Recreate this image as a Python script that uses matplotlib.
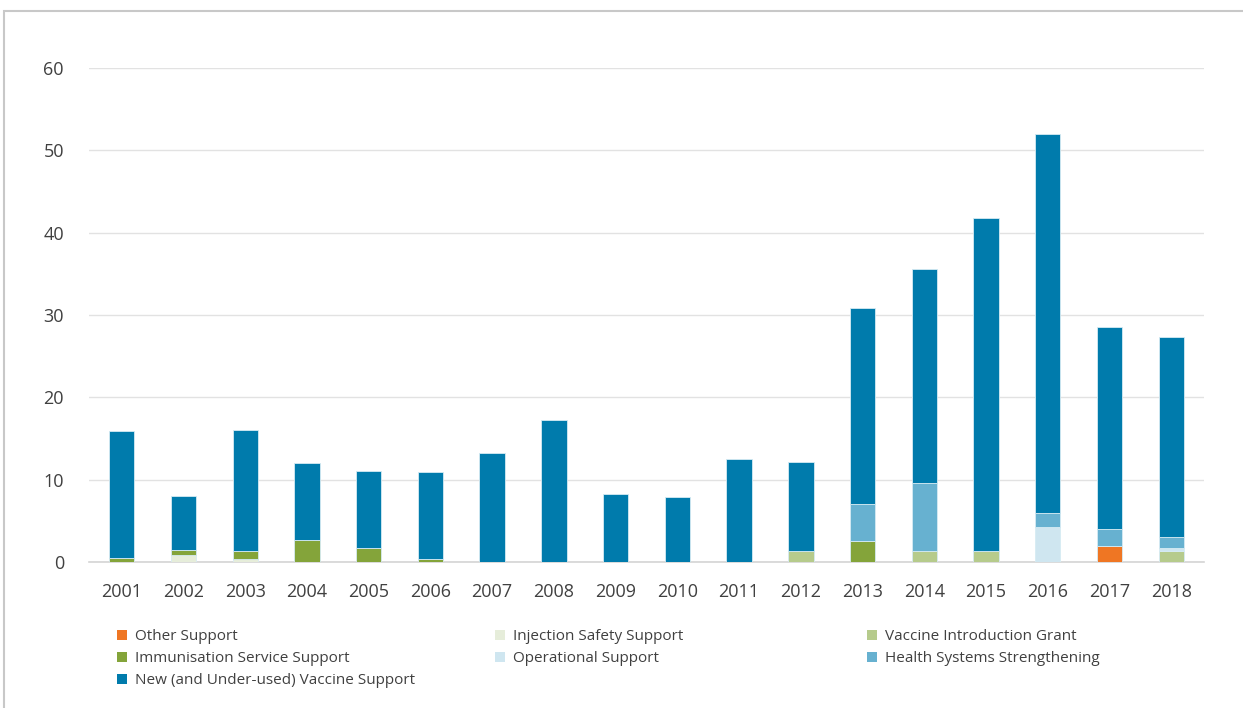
import matplotlib
matplotlib.use('Agg')
import matplotlib.pyplot as plt
from matplotlib.patches import Rectangle, Patch
import numpy as np

# values
years = [str(y) for y in range(2001, 2019)]
other_support = [0, 0, 0, 0, 0, 0, 0, 0, 0, 0, 0, 0, 0, 0, 0, 0, 1.95, 0]
injection_safety = [0, 0.9, 0.4, 0, 0, 0, 0, 0, 0, 0, 0, 0, 0, 0, 0, 0, 0, 0]
vaccine_intro = [0, 0, 0, 0, 0, 0, 0, 0, 0, 0, 0, 1.35, 0, 1.35, 1.35, 0, 0, 1.38]
immunisation_service = [0.5, 0.5, 0.9, 2.65, 1.65, 0.4, 0, 0, 0, 0, 0, 0, 2.6, 0, 0, 0, 0, 0]
operational = [0, 0, 0, 0, 0, 0, 0, 0, 0, 0, 0, 0, 0, 0, 0, 4.3, 0, 0.32]
health_systems = [0, 0, 0, 0, 0, 0, 0, 0, 0, 0, 0, 0, 4.4, 8.3, 0, 1.6, 2.0, 1.3]
new_vaccine = [15.45, 6.65, 14.75, 9.4, 9.4, 10.55, 13.25, 17.25, 8.25, 7.95,
               12.5, 10.85, 23.9, 25.9, 40.45, 46.1, 24.55, 24.3]

series = [
    ('Other Support', other_support, '#EF7623'),
    ('Injection Safety Support', injection_safety, '#E6EDDA'),
    ('Vaccine Introduction Grant', vaccine_intro, '#B6CB8C'),
    ('Immunisation Service Support', immunisation_service, '#84A43A'),
    ('Operational Support', operational, '#CFE6F0'),
    ('Health Systems Strengthening', health_systems, '#67B1D0'),
    ('New (and Under-used) Vaccine Support', new_vaccine, '#007BAC'),
]

plt.rcParams['font.family'] = ['Open Sans', 'DejaVu Sans']

fig = plt.figure(figsize=(12.43, 7.08), dpi=100)
ax = fig.add_axes([89 / 1243, 1 - 562 / 708, (1204 - 89) / 1243, (562 - 68) / 708])

x = np.arange(len(years))
bottom = np.zeros(len(years))
for name, vals, color in series:
    vals = np.array(vals)
    ax.bar(x, vals, width=0.41, bottom=bottom, color=color,
           edgecolor='#d6ebf3', linewidth=0.6, zorder=3)
    bottom += vals

ax.set_xlim(-0.53, len(years) - 0.47)
ax.set_ylim(0, 60)
ax.set_yticks(range(0, 61, 10))
ax.set_xticks(x)
ax.set_xticklabels(years)
ax.tick_params(axis='both', length=0, labelsize=13, colors='#404040')
ax.tick_params(axis='y', pad=18)
ax.tick_params(axis='x', pad=15)
ax.grid(axis='y', color='#e2e2e2', linewidth=1, zorder=0)
for s in ['top', 'right', 'left']:
    ax.spines[s].set_visible(False)
ax.spines['bottom'].set_color('#d4d4d4')
ax.spines['bottom'].set_linewidth(1.2)

# legend in three columns, positioned like the original
legend_cols = [
    (117, [0, 3, 6]),
    (495, [1, 4]),
    (867, [2, 5]),
]
for xpos, idxs in legend_cols:
    handles = [Patch(facecolor=series[i][2], edgecolor='none') for i in idxs]
    labels = [series[i][0] for i in idxs]
    leg = fig.legend(handles, labels, loc='upper left',
                     bbox_to_anchor=(xpos / 1243, 1 - 629 / 708),
                     frameon=False, handlelength=0.65, handleheight=0.65,
                     handletextpad=0.5, labelspacing=0.46, borderaxespad=0,
                     borderpad=0, prop={'size': 11})
    for t in leg.get_texts():
        t.set_color('#404040')

# light frame around the chart area
fig.patches.append(Rectangle((4 / 1243, -0.1), 2, (708 - 11) / 708 + 0.1,
                             transform=fig.transFigure, fill=False,
                             edgecolor='#c8c8c8', linewidth=1.5))

fig.savefig('out.png', dpi=100)
